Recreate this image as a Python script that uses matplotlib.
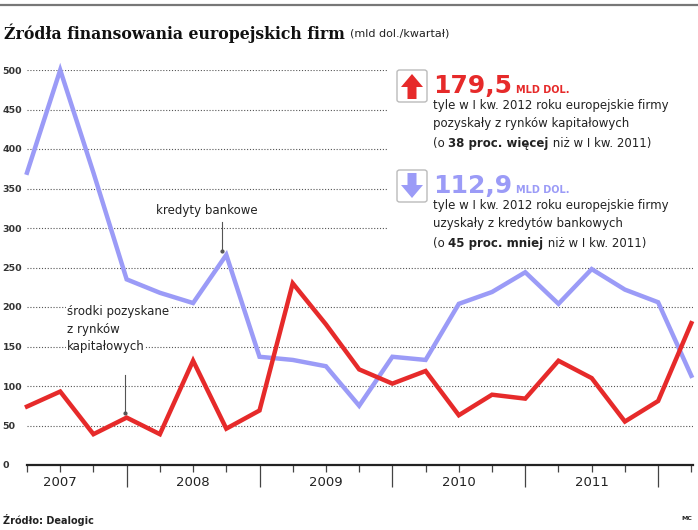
import matplotlib.pyplot as plt
from matplotlib.patches import FancyBboxPatch, Polygon, Rectangle
from matplotlib.lines import Line2D

# dane kwartalne 2007 Q1 - 2012 Q1 (mld dol.)
kredyty = [370, 500, 370, 235, 218, 205, 266, 137, 133, 125, 75,
           137, 133, 204, 219, 244, 204, 248, 222, 206, 112.9]
rynki = [74, 93, 39, 60, 39, 132, 46, 69, 230, 178, 121,
         103, 119, 63, 89, 84, 132, 110, 55, 81, 179.5]
years = ['2007', '2008', '2009', '2010', '2011']
year_pos = [1, 5, 9, 13, 17]
major_pos = [3, 7, 11, 15, 19]
yticks = [0, 50, 100, 150, 200, 250, 300, 350, 400, 450, 500]

RED = '#e62a2a'
BLUE = '#9b9bf7'
W, H = 698, 530


def fx(px):
    return px / W


def fy(py):
    return 1 - py / H


fig = plt.figure(figsize=(6.98, 5.30), dpi=100)
ax = fig.add_axes([fx(27), fy(465), fx(693) - fx(27), fy(70) - fy(465)])

x = list(range(len(kredyty)))
ax.plot(x, kredyty, color=BLUE, lw=3.2, solid_joinstyle='miter', clip_on=False, zorder=3)
ax.plot(x, rynki, color=RED, lw=3.2, solid_joinstyle='miter', clip_on=False, zorder=4)

ax.set_xlim(0, 20.05)
ax.set_ylim(0, 500)

# siatka
for v in yticks[1:]:
    ax.axhline(v, color='#555555', lw=0.8, ls=(0, (1, 1.6)), zorder=1)

ax.set_yticks(yticks)
ax.set_yticklabels([str(v) for v in yticks], fontsize=6.8, fontweight='bold',
                   color='#333333', ha='left')
ax.tick_params(axis='y', length=0, pad=17.5)

for s in ['left', 'top', 'right']:
    ax.spines[s].set_visible(False)
ax.spines['bottom'].set_linewidth(1.6)
ax.spines['bottom'].set_color('#222222')

ax.set_xticks(major_pos)
ax.set_xticklabels([])
ax.set_xticks(x, minor=True)
ax.tick_params(axis='x', which='major', length=16, width=0.9, color='#444444')
ax.tick_params(axis='x', which='minor', length=5, width=0.9, color='#444444')

for p, yr in zip(year_pos, years):
    ax.text(p, -0.045, yr, transform=ax.get_xaxis_transform(), ha='center',
            va='center', fontsize=9.5, color='#222222')

# adnotacje na wykresie
ax.text(5.4, 322, 'kredyty bankowe', ha='center', va='center', fontsize=8.5, color='#222222',
        bbox=dict(fc='white', ec='none', pad=0.5), zorder=2)
ax.add_line(Line2D([5.88, 5.88], [307, 271], color='#555555', lw=0.8))
ax.plot([5.88], [271], 'o', ms=2, color='#555555')

for k, ln in enumerate(['środki pozyskane', 'z rynków', 'kapitałowych']):
    ax.text(1.2, 194 - 22 * k, ln, ha='left', va='center', fontsize=8.5, color='#222222',
            bbox=dict(fc='white', ec='none', pad=0.5), zorder=2)
ax.add_line(Line2D([2.95, 2.95], [114, 66], color='#555555', lw=0.8))
ax.plot([2.95], [66], 'o', ms=2, color='#555555')

# biale tlo pod blokiem z opisami
fig.add_artist(Rectangle((fx(388), fy(250)), 1 - fx(388), fy(58) - fy(250),
                         transform=fig.transFigure, fc='white', ec='none', zorder=0.5))

# linia u gory i tytul
fig.add_artist(Line2D([0, 1], [fy(5), fy(5)], color='#777777', lw=1.6))
t = fig.text(fx(4), fy(33), 'Źródła finansowania europejskich firm', family='DejaVu Serif',
             fontweight='bold', fontsize=11.3, va='center', ha='left', color='#111111')
fig.canvas.draw()
bb = t.get_window_extent()
fig.text(bb.x1 / W + fx(5), fy(34), '(mld dol./kwartał)', fontsize=8, va='center',
         ha='left', color='#222222')

fig.text(fx(3), fy(520), 'Źródło: Dealogic', fontsize=7, fontweight='bold',
         color='#222222', va='center')
fig.text(fx(692), fy(518), 'MC', fontsize=4.5, fontweight='bold', color='#222222',
         va='center', ha='right')


# ramki ze strzalkami
def icon(top, color, up):
    box = FancyBboxPatch((fx(397), fy(top + 32)), fx(30), fy(0) - fy(32),
                         boxstyle='round,pad=0,rounding_size=0.004',
                         transform=fig.transFigure, fc='white', ec='#bbbbbb', lw=1)
    fig.add_artist(box)
    cx = 412
    if up:
        pts = [(cx, top + 4), (cx + 11, top + 17), (cx + 4.5, top + 17), (cx + 4.5, top + 29),
               (cx - 4.5, top + 29), (cx - 4.5, top + 17), (cx - 11, top + 17)]
    else:
        pts = [(cx, top + 28), (cx + 11, top + 15), (cx + 4.5, top + 15), (cx + 4.5, top + 3),
               (cx - 4.5, top + 3), (cx - 4.5, top + 15), (cx - 11, top + 15)]
    fig.add_artist(Polygon([(fx(a), fy(b)) for a, b in pts], closed=True,
                           transform=fig.transFigure, fc=color, ec='none'))


def block(top, color, up, value, lines, bold_part, tail):
    icon(top, color, up)
    big = fig.text(fx(433), fy(top + 23), value, fontsize=18, fontweight='bold',
                   color=color, va='baseline', ha='left')
    fig.canvas.draw()
    bbv = big.get_window_extent()
    fig.text(bbv.x1 / W + fx(4), fy(top + 23), 'MLD DOL.', fontsize=7,
             fontweight='bold', color=color, va='baseline', ha='left')
    for k, ln in enumerate(lines):
        fig.text(fx(433), fy(top + 35 + 19 * k), ln, fontsize=8.5, color='#222222',
                 va='center', ha='left')
    yl = fy(top + 35 + 19 * len(lines))
    a = fig.text(fx(433), yl, '(o ', fontsize=8.5, color='#222222', va='center', ha='left')
    b = fig.text(0, 0, bold_part, fontsize=8.5, fontweight='bold', color='#222222')
    c = fig.text(0, 0, tail, fontsize=8.5, color='#222222')
    fig.canvas.draw()
    x1 = a.get_window_extent().x1 / W
    b.set_position((x1, yl))
    b.set_va('center')
    fig.canvas.draw()
    x2 = b.get_window_extent().x1 / W
    c.set_position((x2, yl))
    c.set_va('center')


block(70, RED, True, '179,5',
      ['tyle w I kw. 2012 roku europejskie firmy', 'pozyskały z rynków kapitałowych'],
      '38 proc. więcej', ' niż w I kw. 2011)')
block(170, BLUE, False, '112,9',
      ['tyle w I kw. 2012 roku europejskie firmy', 'uzyskały z kredytów bankowych'],
      '45 proc. mniej', ' niż w I kw. 2011)')

fig.savefig('out.png', dpi=100)
